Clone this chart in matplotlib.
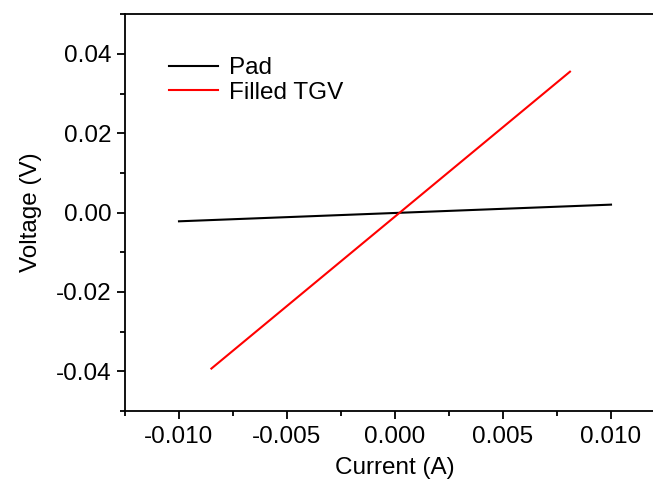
import matplotlib
matplotlib.use("Agg")
import matplotlib.pyplot as plt
from matplotlib.ticker import MultipleLocator

plt.rcParams['font.family'] = ['Liberation Sans', 'DejaVu Sans']

# I-V data
pad_current = [-0.010, 0.010]
pad_voltage = [-0.0022, 0.0020]
tgv_current = [-0.0085, 0.0081]
tgv_voltage = [-0.0393, 0.0355]

fig = plt.figure(figsize=(6.53, 4.87), dpi=100)
ax = fig.add_axes([0.1914, 0.156, 0.827, 0.815])

ax.plot(pad_current, pad_voltage, color="black", lw=1.5, label="Pad")
ax.plot(tgv_current, tgv_voltage, color="red", lw=1.5, label="Filled TGV")

ax.set_xlim(-0.0125, 0.0125)
ax.set_ylim(-0.05, 0.05)
ax.xaxis.set_major_locator(MultipleLocator(0.005))
ax.xaxis.set_minor_locator(MultipleLocator(0.0025))
ax.yaxis.set_major_locator(MultipleLocator(0.02))
ax.yaxis.set_minor_locator(MultipleLocator(0.01))
ax.xaxis.set_major_formatter(lambda v, p: f"{v:.3f}".replace("-0.000", "0.000"))
ax.yaxis.set_major_formatter(lambda v, p: f"{v:.2f}".replace("-0.00", "0.00"))

for s in ax.spines.values():
    s.set_linewidth(1.3)
ax.spines["right"].set_visible(False)

ax.tick_params(which="both", direction="out", width=1.3, labelsize=17.5,
               top=False, right=False)
ax.tick_params(which="major", length=6)
ax.tick_params(which="minor", length=3.5)
ax.tick_params(axis="x", pad=4.5)

ax.set_xlabel("Current (A)", fontsize=17.5, labelpad=7)
ax.set_ylabel("Voltage (V)", fontsize=17.5, labelpad=10)

ax.legend(loc="upper left", bbox_to_anchor=(0.0415, 0.947), frameon=False,
          fontsize=17.5, handlelength=2.0, handletextpad=0.45,
          labelspacing=0.12)

fig.savefig("out.png", dpi=100)
